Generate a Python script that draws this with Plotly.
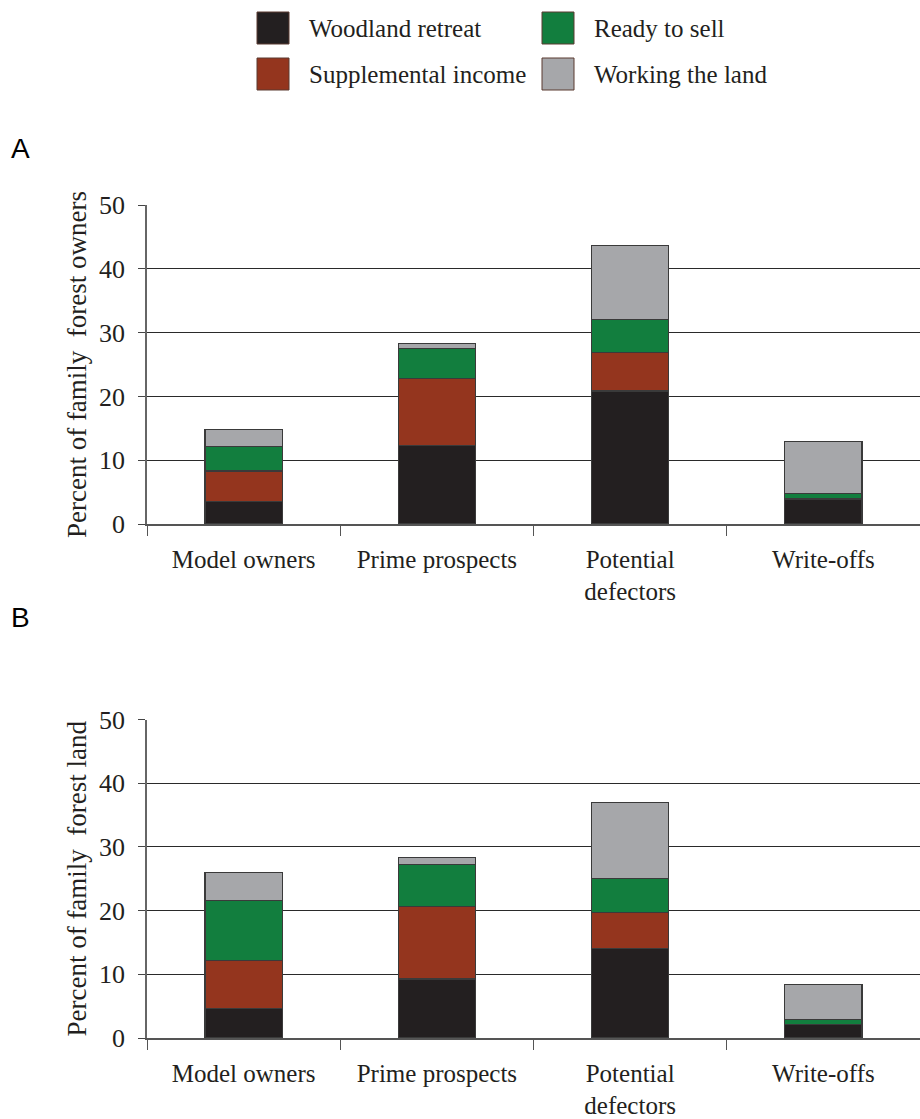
import plotly.graph_objects as go

# ---------------- data ----------------
categories = ["Model owners", "Prime prospects", "Potential<br>defectors", "Write-offs"]
series_names = ["Woodland retreat", "Supplemental income", "Ready to sell", "Working the land"]

owners_woodland = [3.5, 12.25, 20.85, 3.8]
owners_supplemental = [4.8, 10.5, 6.0, 0.2]
owners_ready = [3.85, 4.7, 5.2, 0.8]
owners_working = [2.6, 0.9, 11.6, 8.1]

land_woodland = [4.65, 9.25, 14.1, 2.15]
land_supplemental = [7.55, 11.35, 5.6, 0.0]
land_ready = [9.4, 6.7, 5.4, 0.78]
land_working = [4.35, 1.0, 11.9, 5.45]

y_ticks = [0, 10, 20, 30, 40, 50]
title_a = "Percent of family&nbsp; forest owners"
title_b = "Percent of family&nbsp; forest land"

# ---------------- style ----------------
colors = ["#231f20", "#94351e", "#127e3e", "#a6a7aa"]
W, H = 920, 1119
FONT = "Liberation Serif"
TXT = "#231f20"

fig = go.Figure()

panel_a = [owners_woodland, owners_supplemental, owners_ready, owners_working]
panel_b = [land_woodland, land_supplemental, land_ready, land_working]

for vals, name, col in zip(panel_a, series_names, colors):
    fig.add_trace(go.Bar(x=categories, y=vals, name=name, marker_color=col,
                         marker_line=dict(color="#3a3a3a", width=1.2), width=0.4,
                         xaxis="x", yaxis="y", showlegend=False))
for vals, name, col in zip(panel_b, series_names, colors):
    fig.add_trace(go.Bar(x=categories, y=vals, name=name, marker_color=col,
                         marker_line=dict(color="#3a3a3a", width=1.2), width=0.4,
                         xaxis="x2", yaxis="y2", showlegend=False))

def py(pix):
    return 1 - pix / H

xdom = [147 / W, 1.0]
common_x = dict(type="category", domain=xdom, range=[-0.5, 3.5], showline=True,
                linecolor="#555555", linewidth=1.5, ticks="outside", tickson="boundaries",
                ticklen=10, tickcolor="#555555", tickwidth=1.2, showgrid=False,
                automargin=False,
                tickfont=dict(family=FONT, size=25, color=TXT), ticklabelstandoff=12)
common_y = dict(range=[0, 50], tickvals=y_ticks, showline=True, linecolor="#666666",
                linewidth=1.5, ticks="outside", ticklen=7, tickcolor="#444444", tickwidth=1.2,
                showgrid=True, gridcolor="#2a2a2a", gridwidth=1.4, zeroline=False,
                automargin=False,
                tickfont=dict(family=FONT, size=26, color=TXT), ticklabelstandoff=8)

fig.update_layout(
    width=W, height=H, autosize=False, barmode="stack", bargap=0.6,
    margin=dict(l=0, r=0, t=0, b=0, pad=0),
    paper_bgcolor="white", plot_bgcolor="white",
    font=dict(family=FONT, color=TXT),
    xaxis=dict(**common_x, anchor="y"),
    yaxis=dict(**common_y, domain=[py(524), py(205)], anchor="x",
               title=dict(text=title_a, font=dict(family=FONT, size=27, color=TXT), standoff=5)),
    xaxis2=dict(**common_x, anchor="y2"),
    yaxis2=dict(**common_y, domain=[py(1038), py(719.5)], anchor="x2",
                title=dict(text=title_b, font=dict(family=FONT, size=27, color=TXT), standoff=5)),
)

# ---------------- legend (drawn manually for large swatches) ----------------
legend_pos = [(257, 12), (257, 58), (542, 12), (542, 58)]  # order matches series_names
shapes = []
annotations = []
for (lx, ly), name, col in zip(legend_pos, series_names, colors):
    shapes.append(dict(type="rect", xref="paper", yref="paper",
                       x0=lx / W, x1=(lx + 32) / W, y0=py(ly + 32), y1=py(ly),
                       fillcolor=col, line=dict(color="#5a3a30", width=1)))
    annotations.append(dict(text=name, xref="paper", yref="paper", x=(lx + 50) / W,
                            y=py(ly + 16), xanchor="left", yanchor="middle", showarrow=False,
                            font=dict(family=FONT, size=25, color=TXT)))

annotations.append(dict(text="A", xref="paper", yref="paper", x=9 / W, y=py(148),
                        xanchor="left", yanchor="middle", showarrow=False,
                        font=dict(family="Liberation Sans", size=28, color="#000000")))
annotations.append(dict(text="B", xref="paper", yref="paper", x=9 / W, y=py(617),
                        xanchor="left", yanchor="middle", showarrow=False,
                        font=dict(family="Liberation Sans", size=28, color="#000000")))

fig.update_layout(shapes=shapes, annotations=annotations)

fig.write_html("out.html", config={"displayModeBar": False},
               post_script="document.body.style.margin='0';document.body.style.padding='0';")
